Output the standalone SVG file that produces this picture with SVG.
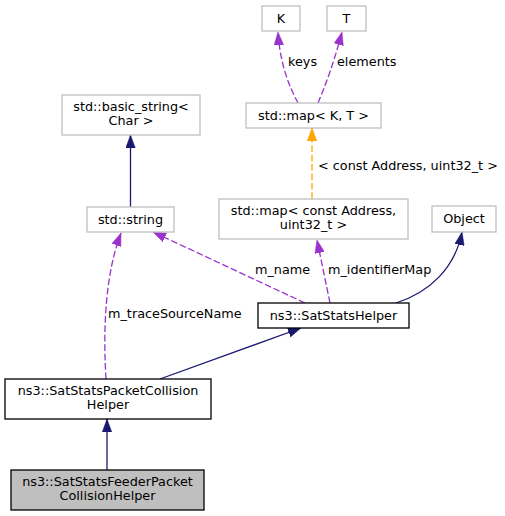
<svg xmlns="http://www.w3.org/2000/svg" width="505" height="516" viewBox="0 0 505 516">
<defs>
<style>
.n rect{fill:#fff;stroke:#bfbfbf;stroke-width:1.3}
.n.b rect{stroke:#000}
.n.f rect{fill:#bfbfbf}
text{font-family:"DejaVu Sans",sans-serif;font-size:12.8px;fill:#000}
.n text{text-anchor:middle}
.e path{fill:none;stroke-width:1.3}
.e .inh{stroke:#191970;marker-end:url(#aInh)}
.e .use{stroke:#9a32cd;stroke-dasharray:6.7,2.7;marker-end:url(#aUse)}
.e .tpl{stroke:#ffa500;stroke-dasharray:6.7,2.7;marker-end:url(#aTpl)}
</style>
<marker id="aInh" viewBox="0 0 13 10" refX="13" refY="5" markerWidth="13" markerHeight="10" markerUnits="userSpaceOnUse" orient="auto"><path d="M0,0.25 L13,5 L0,9.75 z" fill="#191970" stroke="#191970" stroke-width="0.5"/></marker>
<marker id="aUse" viewBox="0 0 13 10" refX="13" refY="5" markerWidth="13" markerHeight="10" markerUnits="userSpaceOnUse" orient="auto"><path d="M0,0.25 L13,5 L0,9.75 z" fill="#9a32cd" stroke="#9a32cd" stroke-width="0.5"/></marker>
<marker id="aTpl" viewBox="0 0 13 10" refX="13" refY="5" markerWidth="13" markerHeight="10" markerUnits="userSpaceOnUse" orient="auto"><path d="M0,0.25 L13,5 L0,9.75 z" fill="#ffa500" stroke="#ffa500" stroke-width="0.5"/></marker>
</defs>
<rect width="505" height="516" fill="#fff"/>
<g id="connectors" class="e">
<path class="use" d="M298,103 C289,86 280,64 278,32"/>
<text x="288" y="66">keys</text>
<path class="use" d="M318,103 C325,86 333,66 342,32"/>
<text x="337" y="66">elements</text>
<path class="tpl" d="M312,199 L312,128"/>
<text x="318" y="170">&lt; const Address, uint32_t &gt;</text>
<path class="inh" d="M130.5,207 L130.5,135"/>
<path class="use" d="M305,303 L153,232"/>
<text x="255" y="274">m_name</text>
<path class="use" d="M106,379 C103,330 105,275 121,233"/>
<text x="108" y="318">m_traceSourceName</text>
<path class="use" d="M330,303 L317,240"/>
<text x="328" y="274">m_identifierMap</text>
<path class="inh" d="M396,303 C430,292 455,268 462,232"/>
<path class="inh" d="M160,379 L301,328"/>
<path class="inh" d="M107,470 L107,419"/>
</g>
<g id="node-K" class="n"><rect x="262" y="6" width="38" height="25"/><text x="281" y="22.5">K</text></g>
<g id="node-T" class="n"><rect x="327" y="6" width="39" height="25"/><text x="346.5" y="22.5">T</text></g>
<g id="node-mapKT" class="n"><rect x="246" y="103" width="135" height="25"/><text x="313.5" y="120">std::map&lt; K, T &gt;</text></g>
<g id="node-basic_string" class="n"><rect x="62" y="95" width="138" height="40"/><text x="131" y="111">std::basic_string&lt;</text><text x="131" y="125">Char &gt;</text></g>
<g id="node-string" class="n"><rect x="87" y="207" width="87" height="25"/><text x="130.5" y="223.5">std::string</text></g>
<g id="node-mapAddr" class="n"><rect x="219" y="199" width="189" height="40"/><text x="313.5" y="215">std::map&lt; const Address,</text><text x="313.5" y="229">uint32_t &gt;</text></g>
<g id="node-Object" class="n"><rect x="432" y="206" width="64" height="26"/><text x="464" y="223">Object</text></g>
<g id="node-SatStatsHelper" class="n b"><rect x="258" y="303" width="151" height="25"/><text x="333.5" y="320">ns3::SatStatsHelper</text></g>
<g id="node-PacketCollision" class="n b"><rect x="5" y="379" width="206" height="40"/><text x="108" y="395">ns3::SatStatsPacketCollision</text><text x="108" y="409">Helper</text></g>
<g id="node-Feeder" class="n b f"><rect x="11" y="470" width="193" height="40"/><text x="107.5" y="486">ns3::SatStatsFeederPacket</text><text x="107.5" y="500">CollisionHelper</text></g>
</svg>
